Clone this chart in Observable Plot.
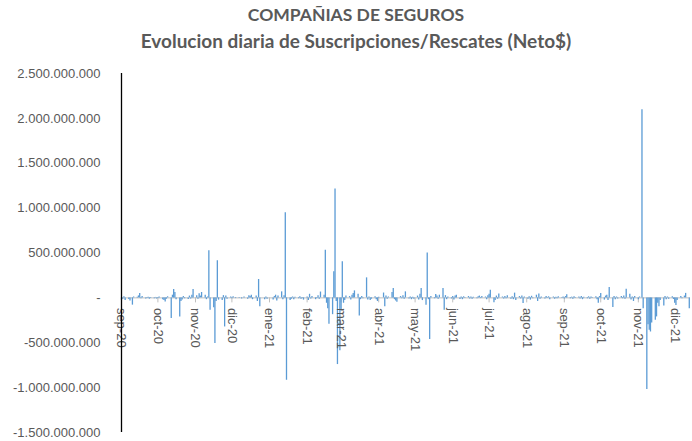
<!DOCTYPE html>
<html>
<head>
<meta charset="utf-8">
<script src="https://cdn.jsdelivr.net/npm/d3@7"></script>
<script src="https://cdn.jsdelivr.net/npm/@observablehq/plot@0.6"></script>
<style>
  html, body { margin: 0; padding: 0; background: #fff; }
  #wrap { width: 692px; height: 441px; position: relative; overflow: hidden; }
  #titles { position: relative; width: 692px; height: 55px; font-family: Lato, "Open Sans", sans-serif; font-weight: bold; color: #595959; }
  #titles div { position: absolute; left: 20px; width: 672px; text-align: center; white-space: nowrap; line-height: 1; }
  #t1 { top: 6px; font-size: 17.5px; }
  #t2 { top: 31px; font-size: 19px; }
</style>
</head>
<body>
<div id="wrap">
  <div id="titles">
    <div id="t1">COMPAÑIAS DE SEGUROS</div>
    <div id="t2">Evolucion diaria de Suscripciones/Rescates (Neto$)</div>
  </div>
  <div id="chart"></div>
</div>
<script>
// ---- Data (values in millions of $) ----
const dates = [
  "2020-09-01","2020-09-02","2020-09-03","2020-09-04","2020-09-07","2020-09-08","2020-09-10","2020-09-11","2020-09-14","2020-09-15",
  "2020-09-16","2020-09-17","2020-09-18","2020-09-21","2020-09-22","2020-09-23","2020-09-24","2020-09-25","2020-09-28","2020-09-29",
  "2020-09-30","2020-10-01","2020-10-02","2020-10-05","2020-10-06","2020-10-07","2020-10-08","2020-10-09","2020-10-12","2020-10-13",
  "2020-10-14","2020-10-15","2020-10-16","2020-10-19","2020-10-20","2020-10-21","2020-10-22","2020-10-23","2020-10-26","2020-10-27",
  "2020-10-28","2020-10-29","2020-10-30","2020-11-02","2020-11-03","2020-11-04","2020-11-05","2020-11-06","2020-11-09","2020-11-10",
  "2020-11-11","2020-11-12","2020-11-13","2020-11-16","2020-11-17","2020-11-18","2020-11-19","2020-11-20","2020-11-23","2020-11-24",
  "2020-11-25","2020-11-26","2020-11-27","2020-11-30","2020-12-01","2020-12-02","2020-12-04","2020-12-07","2020-12-09","2020-12-11",
  "2020-12-14","2020-12-15","2020-12-16","2020-12-17","2020-12-18","2020-12-21","2020-12-22","2020-12-23","2020-12-24","2020-12-28",
  "2020-12-29","2020-12-30","2021-01-04","2021-01-05","2021-01-06","2021-01-07","2021-01-08","2021-01-11","2021-01-12","2021-01-13",
  "2021-01-14","2021-01-15","2021-01-18","2021-01-19","2021-01-20","2021-01-21","2021-01-22","2021-01-25","2021-01-26","2021-01-27",
  "2021-01-28","2021-01-29","2021-02-01","2021-02-02","2021-02-03","2021-02-04","2021-02-05","2021-02-08","2021-02-09","2021-02-10",
  "2021-02-11","2021-02-12","2021-02-15","2021-02-16","2021-02-17","2021-02-18","2021-02-19","2021-02-22","2021-02-23","2021-02-24",
  "2021-02-25","2021-02-26","2021-02-28","2021-03-01","2021-03-02","2021-03-03","2021-03-04","2021-03-05","2021-03-08","2021-03-09",
  "2021-03-10","2021-03-11","2021-03-12","2021-03-15","2021-03-16","2021-03-17","2021-03-18","2021-03-19","2021-03-22","2021-03-23",
  "2021-03-24","2021-03-25","2021-03-26","2021-03-29","2021-03-30","2021-03-31","2021-04-01","2021-04-05","2021-04-06","2021-04-07",
  "2021-04-08","2021-04-09","2021-04-12","2021-04-13","2021-04-14","2021-04-15","2021-04-16","2021-04-19","2021-04-20","2021-04-21",
  "2021-04-22","2021-04-23","2021-04-26","2021-04-27","2021-04-28","2021-04-29","2021-04-30","2021-05-03","2021-05-04","2021-05-05",
  "2021-05-06","2021-05-07","2021-05-10","2021-05-11","2021-05-12","2021-05-13","2021-05-14","2021-05-17","2021-05-18","2021-05-19",
  "2021-05-20","2021-05-21","2021-05-24","2021-05-25","2021-05-26","2021-05-27","2021-05-28","2021-05-31","2021-06-01","2021-06-02",
  "2021-06-03","2021-06-04","2021-06-07","2021-06-08","2021-06-09","2021-06-10","2021-06-11","2021-06-14","2021-06-15","2021-06-16",
  "2021-06-17","2021-06-18","2021-06-21","2021-06-22","2021-06-23","2021-06-24","2021-06-25","2021-06-28","2021-06-29","2021-06-30",
  "2021-07-01","2021-07-02","2021-07-05","2021-07-06","2021-07-07","2021-07-08","2021-07-09","2021-07-12","2021-07-13","2021-07-14",
  "2021-07-15","2021-07-16","2021-07-19","2021-07-20","2021-07-21","2021-07-22","2021-07-23","2021-07-26","2021-07-27","2021-07-28",
  "2021-07-29","2021-07-30","2021-08-02","2021-08-03","2021-08-04","2021-08-05","2021-08-06","2021-08-09","2021-08-10","2021-08-11",
  "2021-08-12","2021-08-13","2021-08-16","2021-08-17","2021-08-18","2021-08-19","2021-08-20","2021-08-23","2021-08-24","2021-08-25",
  "2021-08-26","2021-08-27","2021-08-30","2021-08-31","2021-09-01","2021-09-02","2021-09-03","2021-09-06","2021-09-07","2021-09-08",
  "2021-09-09","2021-09-10","2021-09-13","2021-09-14","2021-09-15","2021-09-16","2021-09-17","2021-09-20","2021-09-21","2021-09-22",
  "2021-09-23","2021-09-24","2021-09-27","2021-09-28","2021-09-29","2021-09-30","2021-10-01","2021-10-04","2021-10-05","2021-10-06",
  "2021-10-07","2021-10-08","2021-10-11","2021-10-12","2021-10-13","2021-10-14","2021-10-15","2021-10-18","2021-10-19","2021-10-20",
  "2021-10-21","2021-10-22","2021-10-25","2021-10-26","2021-10-27","2021-10-28","2021-10-29","2021-11-01","2021-11-02","2021-11-04",
  "2021-11-05","2021-11-08","2021-11-09","2021-11-10","2021-11-11","2021-11-12","2021-11-15","2021-11-16","2021-11-17","2021-11-18",
  "2021-11-19","2021-11-22","2021-11-23","2021-11-24","2021-11-25","2021-11-26","2021-11-29","2021-11-30","2021-12-01","2021-12-02",
  "2021-12-03","2021-12-06","2021-12-07","2021-12-09","2021-12-10","2021-12-13"
];
const netMillions = [
  -25,-15,12,-30,-18,-35,-81,10,8,22,
  48,-10,15,-12,-8,6,-14,-6,-10,5,
  -12,-8,10,-22,-30,-45,-15,12,-230,30,
  94,60,-20,-212,-40,-25,15,-10,-18,20,
  -12,30,94,25,-15,45,20,60,30,-20,
  10,525,-137,-110,-509,-40,413,-25,-30,25,
  -324,20,-15,10,-10,12,-8,5,-12,10,
  -15,25,15,30,-20,20,-40,205,-100,-20,
  10,-15,-25,15,30,-35,20,67,-20,25,
  949,-918,-30,-15,10,-20,8,-10,12,-15,
  5,-25,10,-30,40,-12,15,-20,5,25,
  -15,65,30,532,-60,-120,-294,-187,290,1213,
  -40,-743,-589,-150,402,-60,-30,20,15,-25,
  30,50,78,40,-201,-20,15,-10,223,-25,
  10,-30,-15,12,-20,-40,8,54,-100,20,
  -15,10,60,105,-20,-35,-50,15,-10,25,
  -15,67,-12,10,-20,8,-15,20,-25,40,
  105,-30,-81,499,-20,-464,15,-10,37,20,
  -15,30,105,-137,25,-20,10,-12,15,-25,
  20,30,-18,10,-20,12,-8,15,-12,10,
  -15,8,-10,12,20,-8,15,10,-20,25,
  40,86,-55,-30,20,-15,43,10,-12,15,
  -10,25,-15,12,-20,53,-30,15,-12,20,
  -63,10,-15,12,-25,18,-10,30,-40,43,
  -15,10,-12,15,-8,12,-20,10,-15,8,
  -10,12,-8,10,-12,15,35,-10,8,-15,
  12,-8,10,-12,15,-20,8,-10,12,-15,
  10,-8,12,-20,-60,15,50,-25,20,30,
  -30,116,-107,15,-20,10,-12,15,-10,20,
  -15,97,40,-25,10,-40,15,-20,10,2095,
  -120,-1022,-300,-360,-380,-280,-250,-212,-60,-100,
  -30,-90,15,-20,10,-15,12,-18,-60,-85,
  -30,15,-10,20,50,-120
];
const monthNames = ["ene","feb","mar","abr","may","jun","jul","ago","sep","oct","nov","dic"];
const yTickValues = [-1500000000,-1000000000,-500000000,0,500000000,1000000000,1500000000,2000000000,2500000000];
const xStart = "2020-09-01";
const xEnd = "2021-12-14";

// ---- Build ----
const data = dates.map((d, i) => ({date: new Date(d + "T00:00:00Z"), value: netMillions[i] * 1e6}));
const start = new Date(xStart + "T00:00:00Z");
const end = new Date(xEnd + "T00:00:00Z");
const monthTicks = d3.utcMonths(start, end);
const loc = d3.formatLocale({decimal: ",", thousands: ".", grouping: [3], currency: ["$", ""], minus: "-"});
const numFmt = loc.format(",d");
const yFmt = v => v === 0 ? "-" : numFmt(v);
const mFmt = d => monthNames[d.getUTCMonth()] + "-" + String(d.getUTCFullYear()).slice(2);

const chart = Plot.plot({
  width: 692,
  height: 386,
  marginLeft: 121,
  marginRight: 2,
  marginTop: 18,
  marginBottom: 9,
  style: {fontFamily: "'Liberation Sans', Arial, sans-serif", background: "#fff"},
  x: {type: "utc", domain: [start, end], axis: null},
  y: {domain: [-1.5e9, 2.5e9], axis: null},
  marks: [
    Plot.axisY(yTickValues, {tickSize: 0, tickPadding: 21, tickFormat: yFmt, fontSize: 13, color: "#595959", label: null}),
    Plot.ruleY([0], {stroke: "#bfbfbf", strokeWidth: 1}),
    Plot.ruleX(monthTicks, {x: d => d, y1: 0, y2: 0, insetTop: 0, insetBottom: -5, stroke: "#bfbfbf", strokeWidth: 1}),
    Plot.ruleX(data, {x: "date", y1: 0, y2: "value", stroke: "#5b9bd5", strokeWidth: 1.3}),
    Plot.text(monthTicks, {x: d => d, y: 0, text: mFmt, rotate: 90, textAnchor: "start", lineAnchor: "middle", dy: 10, fontSize: 13, fill: "#595959"}),
    Plot.ruleX([start], {stroke: "#000", strokeWidth: 1.3})
  ]
});
document.getElementById("chart").appendChild(chart);
</script>
</body>
</html>
